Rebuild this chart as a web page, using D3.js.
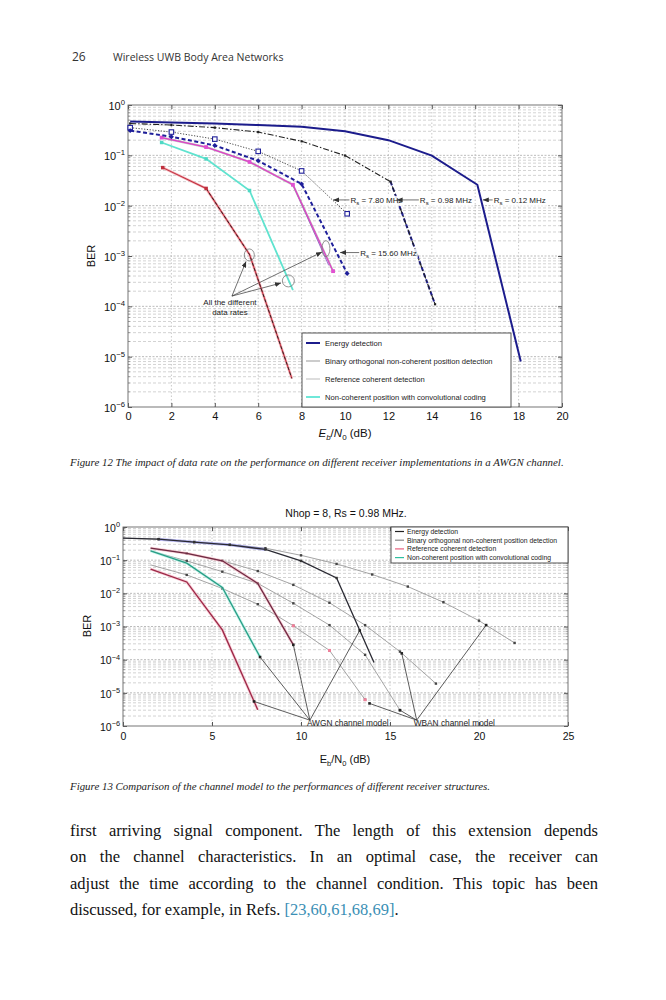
<!DOCTYPE html>
<html lang="en">
<head>
<meta charset="UTF-8" />
<title>Wireless UWB Body Area Networks - p.26</title>
<script src="https://cdn.jsdelivr.net/npm/d3@7"></script>
<style>
  body { margin: 0; background: #fff; }
  svg { display: block; }
</style>
</head>
<body>
<div id="app"></div>
<script>
// ---------- Figure 12 data (Eb/N0 in dB, BER) ----------
const f12XTicks = [0, 2, 4, 6, 8, 10, 12, 14, 16, 18, 20]
const berMajor = [1, 1e-1, 1e-2, 1e-3, 1e-4, 1e-5, 1e-6]
const berExp = ['0', '\u22121', '\u22122', '\u22123', '\u22124', '\u22125', '\u22126']

const energy012 = [[0.1, 0.47], [2, 0.45], [4, 0.43], [6, 0.40], [8, 0.37], [10, 0.30], [12, 0.20], [14, 0.099], [16.1, 0.026], [18.1, 8e-6]]
const energy098 = [[0.1, 0.43], [2, 0.40], [4, 0.355], [6, 0.29], [8, 0.19], [10, 0.099], [12.1, 0.030], [14.15, 1.1e-4]]
const energy780 = [[0.1, 0.355], [2, 0.29], [4, 0.21], [6, 0.12], [8, 0.049], [10.1, 0.0069]]
const energy1560 = [[0.1, 0.31], [2, 0.235], [4, 0.157], [6, 0.078], [8, 0.027], [10.1, 4.5e-4]]
const binary12 = [[1.55, 0.225], [3.6, 0.146], [5.6, 0.074], [7.6, 0.026], [9.45, 5e-4]]
const binary12Alt = [[7.6, 0.026], [9.25, 6.5e-4]]
const conv12 = [[1.55, 0.18], [3.6, 0.085], [5.6, 0.020], [7.6, 2.1e-4]]
const ref12 = [[1.6, 0.057], [3.6, 0.022], [5.6, 1.07e-3], [7.55, 3.7e-6]]

const legend12 = ['Energy detection', 'Binary orthogonal non-coherent position detection', 'Reference coherent detection', 'Non-coherent position with convolutional coding']
const rsNotes = [
  { label: '7.80', tip: [9.45, 0.013], at: [10.25, 0.013] },
  { label: '0.98', tip: [12.38, 0.013], at: [13.45, 0.013] },
  { label: '0.12', tip: [16.35, 0.013], at: [16.85, 0.013] },
  { label: '15.60', tip: [9.77, 1.17e-3], at: [10.7, 1.17e-3] }
]
const rateCircles = [[5.59, 1.05e-3, 5, 6], [7.39, 3.2e-4, 6, 6], [9.12, 1.4e-3, 4, 8]]
const rateTips = [[5.44, 7.8e-4], [7.05, 2.9e-4], [8.94, 1.2e-3]]
const rateFrom = [4.79, 1.6e-4]

// ---------- Figure 13 data ----------
const f13XTicks = [0, 5, 10, 15, 20, 25]
const energyAwgn13 = [[0, 0.46], [2, 0.43], [4, 0.35], [6, 0.29], [8, 0.21], [10, 0.095], [12, 0.029], [14.1, 8.2e-5]]
const energyWban13 = [[0, 0.46], [2, 0.43], [4, 0.35], [6, 0.29], [8, 0.23], [10, 0.14], [12, 0.077], [14, 0.037], [16, 0.016], [18, 0.0054], [20, 0.0015], [22, 3.2e-4]]
const binaryAwgn13 = [[1.55, 0.23], [3.58, 0.16], [5.58, 0.096], [7.57, 0.020], [9.57, 2.8e-4]]
const binaryWban13 = [[1.55, 0.23], [3.58, 0.16], [5.58, 0.096], [7.57, 0.047], [9.57, 0.018], [11.6, 0.0052], [13.6, 0.0011], [15.56, 1.75e-4], [17.58, 1.9e-5]]
const convAwgn13 = [[1.55, 0.19], [3.58, 0.081], [5.58, 0.015], [7.7, 1.2e-4]]
const convWban13 = [[1.55, 0.19], [3.58, 0.095], [5.58, 0.045], [7.57, 0.020], [9.57, 0.005], [11.6, 1.1e-3], [13.6, 1.4e-4], [15.56, 3e-6]]
const refAwgn13 = [[1.55, 0.054], [3.58, 0.022], [5.58, 7.9e-4], [7.57, 3.1e-6]]
const refWban13 = [[1.55, 0.072], [3.58, 0.036], [5.58, 0.014], [7.57, 0.0047], [9.57, 1.05e-3], [11.6, 1.9e-4], [13.6, 6.2e-6]]

const awgnFrom = [10.5, 1.5e-6]
const awgnTips = [[7.36, 5.5e-6], [7.7, 1.2e-4], [9.57, 2.8e-4], [13.3, 7.6e-4]]
const wbanFrom = [16.5, 1.5e-6]
const wbanTips = [[13.85, 4.8e-6], [15.56, 3e-6], [15.66, 1.55e-4], [20.4, 1.1e-3]]

const bodyLines = [
  'first arriving signal component. The length of this extension depends',
  'on the channel characteristics. In an optimal case, the receiver can',
  'adjust the time according to the channel condition. This topic has been'
]

const W = 666, H = 1000
const svg = d3.select('#app').append('svg')
  .attr('width', W).attr('height', H)
  .style('font-family', '"Liberation Sans", Arial, sans-serif')

const defs = svg.append('defs')
defs.append('marker').attr('id', 'arrow')
  .attr('viewBox', '0 0 6 5').attr('refX', 6).attr('refY', 2.5)
  .attr('markerWidth', 6).attr('markerHeight', 5).attr('markerUnits', 'userSpaceOnUse')
  .attr('orient', 'auto')
  .append('path').attr('d', 'M0,0L6,2.5L0,5Z').attr('fill', '#333')

// ---------- page text ----------
svg.append('text').attr('x', 72).attr('y', 61)
  .style('font-family', '"Open Sans", sans-serif').attr('font-size', 12).attr('fill', '#333').text('26')
svg.append('text').attr('x', 113).attr('y', 61)
  .style('font-family', '"Open Sans", sans-serif').attr('font-size', 10.5).attr('fill', '#333')
  .text('Wireless UWB Body Area Networks')

// draws the grid, box, ticks and tick labels of a log-BER frame
function frame(g, x, y, xTicks, o) {
  const [xa, xb] = x.range(), [yb, ya] = y.range()
  const minor = y.ticks().filter(v => !berMajor.some(m => Math.abs(m - v) / m < 1e-6))

  g.append('g').selectAll('line').data(minor).join('line')
    .attr('x1', xa).attr('x2', xb).attr('y1', d => y(d)).attr('y2', d => y(d))
    .attr('stroke', '#c8c8c8').attr('stroke-width', 0.8).attr('stroke-dasharray', '3,2')
  g.append('g').selectAll('line').data(berMajor.slice(1, -1)).join('line')
    .attr('x1', xa).attr('x2', xb).attr('y1', d => y(d)).attr('y2', d => y(d))
    .attr('stroke', '#aaa').attr('stroke-width', 0.8).attr('stroke-dasharray', '2,1.5')
  g.append('g').selectAll('line').data(xTicks.slice(1, -1)).join('line')
    .attr('x1', d => x(d)).attr('x2', d => x(d)).attr('y1', ya).attr('y2', yb)
    .attr('stroke', '#bbb').attr('stroke-width', 0.8).attr('stroke-dasharray', '1.5,2')

  // minor ticks on both y sides
  g.append('g').selectAll('path').data(minor).join('path')
    .attr('d', d => `M${xa},${y(d)}h2M${xb},${y(d)}h-2`).attr('stroke', '#777').attr('stroke-width', 0.6)

  const xAxis = g.append('g').attr('transform', `translate(0,${yb})`)
    .call(d3.axisBottom(x).tickValues(xTicks).tickSize(-4).tickPadding(o.xPad))
  xAxis.select('.domain').remove()
  xAxis.selectAll('.tick line').attr('stroke', '#555')
  xAxis.selectAll('.tick text').attr('font-size', o.fs).attr('fill', '#111')
    .style('font-family', '"Liberation Sans", Arial, sans-serif')
  g.append('g').attr('transform', `translate(0,${ya})`)
    .call(d3.axisTop(x).tickValues(xTicks).tickSize(-4).tickFormat(''))
    .call(s => s.select('.domain').remove())
    .selectAll('.tick line').attr('stroke', '#555')

  const yAxis = g.append('g').attr('transform', `translate(${xa},0)`)
    .call(d3.axisLeft(y).tickValues(berMajor).tickSize(-4).tickPadding(3).tickFormat(''))
  yAxis.select('.domain').remove()
  yAxis.selectAll('.tick line').attr('stroke', '#555')
  yAxis.selectAll('.tick text').each(function (d, i) {
    const t = d3.select(this).attr('font-size', o.fs).attr('fill', '#111')
      .attr('x', -3).attr('dy', '0.4em')
      .style('font-family', '"Liberation Sans", Arial, sans-serif')
    t.append('tspan').text('10')
    t.append('tspan').attr('font-size', o.fs * 0.7).attr('dy', -o.fs * 0.45).text(berExp[i])
  })
  g.append('g').attr('transform', `translate(${xb},0)`)
    .call(d3.axisRight(y).tickValues(berMajor).tickSize(-4).tickFormat(''))
    .call(s => s.select('.domain').remove())
    .selectAll('.tick line').attr('stroke', '#555')

  g.append('rect').attr('x', xa).attr('y', ya).attr('width', xb - xa).attr('height', yb - ya)
    .attr('fill', 'none').attr('stroke', '#666').attr('stroke-width', 0.9)
}

function marks(g, data, x, y, shape, size, fill, stroke) {
  g.append('g').selectAll('rect').data(data).join('rect')
    .attr('x', d => x(d[0]) - size / 2).attr('y', d => y(d[1]) - size / 2)
    .attr('width', size).attr('height', size)
    .attr('fill', fill).attr('stroke', stroke || 'none').attr('stroke-width', 1.1)
    .attr('transform', d => shape === 'diamond' ? `rotate(45,${x(d[0])},${y(d[1])})` : null)
}

// ---------- Figure 12 ----------
{
  const x = d3.scaleLinear().domain([0, 20]).range([128, 562])
  const y = d3.scaleLog().domain([1e-6, 1]).range([407, 105])
  const g = svg.append('g')
  frame(g, x, y, f12XTicks, { fs: 11, xPad: 5 })
  const line = d3.line().x(d => x(d[0])).y(d => y(d[1]))

  // reference coherent (red with dark dashes)
  g.append('path').datum(ref12).attr('d', line).attr('fill', 'none')
    .attr('stroke', '#f2a0aa').attr('stroke-width', 2.6).attr('opacity', 0.8)
  g.append('path').datum(ref12).attr('d', line).attr('fill', 'none')
    .attr('stroke', '#c0303e').attr('stroke-width', 1.1)
  g.append('path').datum(ref12.slice(1)).attr('d', line).attr('fill', 'none')
    .attr('stroke', '#222').attr('stroke-width', 0.9).attr('stroke-dasharray', '3,2.5')
  marks(g, ref12.slice(0, 2), x, y, 'sq', 3.5, '#c0303e')

  // non-coherent with convolutional coding
  g.append('path').datum(conv12).attr('d', line).attr('fill', 'none')
    .attr('stroke', '#5fe3cf').attr('stroke-width', 1.8)
  marks(g, conv12.slice(0, 3), x, y, 'sq', 3.5, '#4fd8c4')

  // binary orthogonal (all rates)
  g.append('path').datum(binary12Alt).attr('d', line).attr('fill', 'none')
    .attr('stroke', '#a070d8').attr('stroke-width', 1)
  g.append('path').datum(binary12).attr('d', line).attr('fill', 'none')
    .attr('stroke', '#888').attr('stroke-width', 2.2).attr('opacity', 0.5)
  g.append('path').datum(binary12).attr('d', line).attr('fill', 'none')
    .attr('stroke', '#e040c8').attr('stroke-width', 1.2)
  marks(g, binary12, x, y, 'sq', 3.8, '#e050d0')

  // energy detection, Rs = 7.80 MHz (dotted, open squares)
  g.append('path').datum(energy780).attr('d', line).attr('fill', 'none')
    .attr('stroke', '#333').attr('stroke-width', 0.9).attr('stroke-dasharray', '1.2,1.6')
  marks(g, energy780, x, y, 'sq', 4.5, '#fff', '#1f1f9a')

  // Rs = 15.60 MHz (thick dashed)
  g.append('path').datum(energy1560).attr('d', line).attr('fill', 'none')
    .attr('stroke', '#1f1f9a').attr('stroke-width', 2).attr('stroke-dasharray', '4,2.5')
  marks(g, energy1560, x, y, 'diamond', 3.5, '#1f1f9a')

  // Rs = 0.98 MHz (dash-dot, steep part dashed blue)
  g.append('path').datum(energy098.slice(-2)).attr('d', line).attr('fill', 'none')
    .attr('stroke', '#1f1f9a').attr('stroke-width', 2).attr('stroke-dasharray', '4,2.5')
  g.append('path').datum(energy098).attr('d', line).attr('fill', 'none')
    .attr('stroke', '#222').attr('stroke-width', 1.1).attr('stroke-dasharray', '6,2,1.5,2')
  marks(g, energy098, x, y, 'sq', 2.2, '#222')

  // Rs = 0.12 MHz (solid)
  g.append('path').datum(energy012).attr('d', line).attr('fill', 'none')
    .attr('stroke', '#1c1c8c').attr('stroke-width', 2)

  // Rs notes
  rsNotes.forEach(n => {
    const t = g.append('text').attr('x', x(n.at[0])).attr('y', y(n.at[1]) + 3)
      .attr('font-size', 8).attr('fill', '#222')
    t.append('tspan').text('R')
    t.append('tspan').attr('font-size', 6).attr('dy', 2).text('s')
    t.append('tspan').attr('dy', -2).text(` = ${n.label} MHz`)
    const b = t.node().getBBox()
    g.insert('rect', () => t.node()).attr('x', b.x - 1).attr('y', b.y).attr('width', b.width + 2)
      .attr('height', b.height).attr('fill', '#fff').attr('opacity', 0.85)
    g.append('line').attr('x1', b.x - 1).attr('y1', y(n.at[1])).attr('x2', x(n.tip[0])).attr('y2', y(n.tip[1]))
      .attr('stroke', '#333').attr('stroke-width', 0.7).attr('marker-end', 'url(#arrow)')
  })

  // "All the different data rates"
  g.append('g').selectAll('ellipse').data(rateCircles).join('ellipse')
    .attr('cx', d => x(d[0])).attr('cy', d => y(d[1])).attr('rx', d => d[2]).attr('ry', d => d[3])
    .attr('fill', 'none').attr('stroke', '#777').attr('stroke-width', 0.8)
  g.append('g').selectAll('line').data(rateTips).join('line')
    .attr('x1', x(rateFrom[0])).attr('y1', y(rateFrom[1]))
    .attr('x2', d => x(d[0])).attr('y2', d => y(d[1]))
    .attr('stroke', '#333').attr('stroke-width', 0.7).attr('marker-end', 'url(#arrow)')
  const rt = g.append('text').attr('x', x(rateFrom[0]) - 2).attr('y', y(rateFrom[1]) + 9)
    .attr('font-size', 8).attr('text-anchor', 'middle').attr('fill', '#222')
  rt.append('tspan').attr('x', x(rateFrom[0]) - 2).text('All the different')
  rt.append('tspan').attr('x', x(rateFrom[0]) - 2).attr('dy', 9.5).text('data rates')

  // legend
  const lg = g.append('g').attr('transform', 'translate(302,333)')
  lg.append('rect').attr('width', 209).attr('height', 74).attr('fill', '#fff').attr('stroke', '#444').attr('stroke-width', 0.9)
  const lstyle = [['#1c1c8c', 2], ['#999', 1], ['#bbb', 1], ['#3fe0cc', 1.5]]
  legend12.forEach((s, i) => {
    const yy = 10 + i * 18
    lg.append('line').attr('x1', 4).attr('x2', 18).attr('y1', yy).attr('y2', yy)
      .attr('stroke', lstyle[i][0]).attr('stroke-width', lstyle[i][1])
    lg.append('text').attr('x', 23).attr('y', yy + 2.8).attr('font-size', 7.6).attr('fill', '#222').text(s)
  })

  // axis labels
  g.append('text').attr('transform', 'translate(95,256) rotate(-90)').attr('text-anchor', 'middle')
    .attr('font-size', 11).attr('fill', '#111').text('BER')
  const xl = g.append('text').attr('x', 345).attr('y', 437).attr('text-anchor', 'middle').attr('font-size', 11.5).attr('fill', '#111')
  xl.append('tspan').attr('font-style', 'italic').text('E')
  xl.append('tspan').attr('font-style', 'italic').attr('font-size', 8).attr('dy', 3).text('b')
  xl.append('tspan').attr('dy', -3).text('/')
  xl.append('tspan').attr('font-style', 'italic').text('N')
  xl.append('tspan').attr('font-size', 8).attr('dy', 3).text('0')
  xl.append('tspan').attr('dy', -3).text(' (dB)')
}

svg.append('text').attr('x', 70).attr('y', 466)
  .style('font-family', '"Liberation Serif", "Times New Roman", serif').attr('font-style', 'italic')
  .attr('font-size', 10.9).attr('fill', '#222')
  .text('Figure 12 The impact of data rate on the performance on different receiver implementations in a AWGN channel.')

// ---------- Figure 13 ----------
{
  const x = d3.scaleLinear().domain([0, 25]).range([123, 568])
  const y = d3.scaleLog().domain([1e-6, 1]).range([726, 527])
  const g = svg.append('g')
  frame(g, x, y, f13XTicks, { fs: 10.5, xPad: 7 })
  const line = d3.line().x(d => x(d[0])).y(d => y(d[1]))

  // WBAN channel curves (gray with markers)
  const wban = [energyWban13, binaryWban13, convWban13, refWban13]
  wban.forEach(s => {
    g.append('path').datum(s).attr('d', line).attr('fill', 'none')
      .attr('stroke', '#9a9a9a').attr('stroke-width', 0.9)
    marks(g, s.slice(1), x, y, 'sq', 2.4, '#444')
  })
  marks(g, refWban13.slice(-3), x, y, 'sq', 3, '#f0809a')

  // AWGN curves (halo + dark line)
  g.append('path').datum(energyAwgn13.slice(1, 5)).attr('d', line).attr('fill', 'none')
    .attr('stroke', '#8c8ce8').attr('stroke-width', 3).attr('opacity', 0.6)
  const awgn = [
    [energyAwgn13, null, '#2a2a33'],
    [binaryAwgn13, '#f5a8b8', '#6e2a42'],
    [convAwgn13, '#a0f0e0', '#2a9d86'],
    [refAwgn13, '#f5a0b4', '#9a2846']
  ]
  awgn.forEach(([s, halo, c]) => {
    if (halo) g.append('path').datum(s).attr('d', line).attr('fill', 'none')
      .attr('stroke', halo).attr('stroke-width', 2.8).attr('opacity', 0.6)
    g.append('path').datum(s).attr('d', line).attr('fill', 'none')
      .attr('stroke', c).attr('stroke-width', 1.3)
  })
  marks(g, energyAwgn13.slice(1, -1), x, y, 'sq', 2.4, '#333')

  // channel model notes
  const notes = [[awgnFrom, awgnTips, 'AWGN channel model'], [wbanFrom, wbanTips, 'WBAN channel model']]
  notes.forEach(([from, tips, label]) => {
    g.append('g').selectAll('line').data(tips).join('line')
      .attr('x1', x(from[0])).attr('y1', y(from[1]))
      .attr('x2', d => x(d[0])).attr('y2', d => y(d[1]))
      .attr('stroke', '#333').attr('stroke-width', 0.8)
    marks(g, tips, x, y, 'sq', 2.6, '#222')
    g.append('text').attr('x', x(from[0]) - 3).attr('y', 726).attr('font-size', 8.3).attr('fill', '#222').text(label)
  })

  // legend
  const lg = g.append('g').attr('transform', 'translate(391,527)')
  lg.append('rect').attr('width', 177).attr('height', 36).attr('fill', '#fff').attr('stroke', '#444').attr('stroke-width', 0.9)
  const lstyle = ['#222', '#888', '#e8607e', '#2fc0a0']
  legend12.forEach((s, i) => {
    const yy = 4.5 + i * 8.7
    lg.append('line').attr('x1', 4).attr('x2', 13).attr('y1', yy).attr('y2', yy)
      .attr('stroke', lstyle[i]).attr('stroke-width', 1.2)
    lg.append('text').attr('x', 16).attr('y', yy + 2.4).attr('font-size', 6.8).attr('fill', '#222').text(s)
  })

  g.append('text').attr('x', 346).attr('y', 517).attr('text-anchor', 'middle').attr('font-size', 10.5)
    .attr('fill', '#111').text('Nhop = 8, Rs = 0.98 MHz.')
  g.append('text').attr('transform', 'translate(91,626) rotate(-90)').attr('text-anchor', 'middle')
    .attr('font-size', 11).attr('fill', '#111').text('BER')
  const xl = g.append('text').attr('x', 345).attr('y', 763).attr('text-anchor', 'middle').attr('font-size', 11).attr('fill', '#111')
  xl.append('tspan').text('E')
  xl.append('tspan').attr('font-size', 7.5).attr('dy', 3).text('b')
  xl.append('tspan').attr('dy', -3).text('/N')
  xl.append('tspan').attr('font-size', 7.5).attr('dy', 3).text('0')
  xl.append('tspan').attr('dy', -3).text(' (dB)')
}

svg.append('text').attr('x', 70).attr('y', 790)
  .style('font-family', '"Liberation Serif", "Times New Roman", serif').attr('font-style', 'italic')
  .attr('font-size', 10.9).attr('fill', '#222')
  .text('Figure 13 Comparison of the channel model to the performances of different receiver structures.')

// ---------- body text (justified) ----------
const bodyX = 70, bodyW = 528, bodyTop = 836, lead = 26.3
const serif = '"Liberation Serif", "Times New Roman", serif'
bodyLines.forEach((s, i) => {
  const t = svg.append('text').attr('x', bodyX).attr('y', bodyTop + i * lead)
    .style('font-family', serif).attr('font-size', 16.5).attr('fill', '#111').text(s)
  const gap = (bodyW - t.node().getComputedTextLength()) / (s.split(' ').length - 1)
  t.attr('word-spacing', gap)
})
const last = svg.append('text').attr('x', bodyX).attr('y', bodyTop + 3 * lead)
  .style('font-family', serif).attr('font-size', 16.5).attr('fill', '#111')
last.append('tspan').text('discussed, for example, in Refs. ')
last.append('tspan').attr('fill', '#3b8fb5').text('[23,60,61,68,69]')
last.append('tspan').text('.')
</script>
</body>
</html>
